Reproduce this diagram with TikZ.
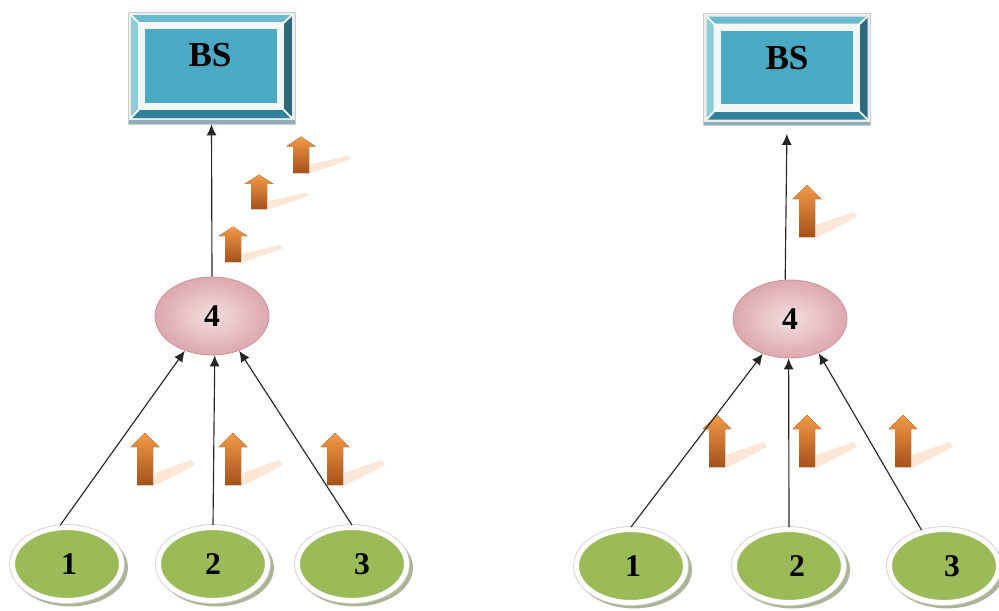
\documentclass[tikz,border=0pt]{standalone}
\usepackage{fontspec}
\setmainfont{Liberation Serif}
\usetikzlibrary{arrows.meta,shapes.geometric,calc,shadows}

\definecolor{bsrim}{HTML}{ECEEEE}
\definecolor{bsedge}{HTML}{C8CED0}
\definecolor{bsshade}{HTML}{8FAEB8}
\definecolor{bstop}{HTML}{6AB9CC}
\definecolor{bsleft}{HTML}{8FCDDB}
\definecolor{bsright}{HTML}{2B6A7C}
\definecolor{bsbottom}{HTML}{33809A}
\definecolor{bsface}{HTML}{4AA9C3}
\definecolor{bsgap}{HTML}{F3F6F7}
\definecolor{leafgreen}{HTML}{9BBB59}
\definecolor{ringedge}{HTML}{D2D2D2}
\definecolor{ringshadow}{HTML}{A9B596}
\definecolor{relaylight}{HTML}{F3DEE0}
\definecolor{relaydark}{HTML}{DCA8AE}
\definecolor{relayedge}{HTML}{CF959C}
\definecolor{arrtop}{HTML}{F29A46}
\definecolor{arrbot}{HTML}{A5511C}
\definecolor{arrshade}{HTML}{FCE6D6}

% bevelled frame of a base-station box, drawn inside the node's own path
\newcommand\bevelframe{%
  \coordinate (bvNW) at (path picture bounding box.north west);
  \coordinate (bvNE) at (path picture bounding box.north east);
  \coordinate (bvSE) at (path picture bounding box.south east);
  \coordinate (bvSW) at (path picture bounding box.south west);
  \fill[bsshade] ($(bvSW)+(0,-4)$) rectangle (bvSE);
  \coordinate (a1) at ($(bvNW)+(3,3)$);
  \coordinate (a2) at ($(bvNE)+(-3,3)$);
  \coordinate (a3) at ($(bvSE)+(-3,-6)$);
  \coordinate (a4) at ($(bvSW)+(3,-6)$);
  \coordinate (b1) at ($(bvNW)+(10,10)$);
  \coordinate (b2) at ($(bvNE)+(-11,10)$);
  \coordinate (b3) at ($(bvSE)+(-11,-14)$);
  \coordinate (b4) at ($(bvSW)+(10,-14)$);
  \coordinate (c1) at ($(bvNW)+(17,17)$);
  \coordinate (c3) at ($(bvSE)+(-18,-21)$);
  \fill[bstop] (a1)--(a2)--(b2)--(b1)--cycle;
  \fill[bsright] (a2)--(a3)--(b3)--(b2)--cycle;
  \fill[bsbottom] (a3)--(a4)--(b4)--(b3)--cycle;
  \fill[bsleft] (a4)--(a1)--(b1)--(b4)--cycle;
  \fill[bsgap] (b1) rectangle (b3);
  \fill[bsface] (c1) rectangle (c3);
  \draw[white, line width=1pt] (a1)--(c1) (a2)--(c3 |- c1) (a3)--(c3) (a4)--(c1 |- c3);
}

\tikzset{
  x=0.02cm, y=-0.02cm,
  bsbox/.style={rectangle, minimum width=3.34cm, minimum height=2.24cm,
    inner sep=0pt, fill=bsrim, draw=bsedge, line width=0.4pt,
    path picture={\bevelframe}},
  bslabel/.style={font=\fontsize{20}{24}\selectfont\bfseries},
  relay/.style={ellipse, minimum width=2.28cm, minimum height=1.56cm,
    inner sep=0pt, inner color=relaylight, outer color=relaydark,
    draw=relayedge, line width=0.5pt,
    font=\fontsize{18}{20}\selectfont\bfseries},
  leaf/.style={ellipse, minimum width=2.18cm, minimum height=1.46cm,
    inner sep=0pt,
    drop shadow={shadow xshift=0.06cm, shadow yshift=-0.07cm,
      shadow scale=1.06, fill=ringshadow, opacity=1},
    preaction={draw=ringedge, line width=0.135cm},
    fill=leafgreen, draw=white, line width=0.1cm},
  num/.style={font=\fontsize{18}{20}\selectfont\bfseries},
  link/.style={draw=black!85, line width=0.65pt,
    -{Latex[length=0.22cm,width=0.2cm]}},
  uparr/.pic={
    \fill[arrshade] (9,1) -- (9,-12) -- (47,-25) -- (50,-20) -- cycle;
    \fill[top color=arrtop, bottom color=arrbot]
      (-8,0) -- (-8,-38) -- (-14.5,-38) -- (0,-52) -- (14.5,-38)
      -- (8,-38) -- (8,0) -- cycle;
  }
}

\begin{document}
\begin{tikzpicture}
\useasboundingbox (0,0) rectangle (999,610);

% ---- left tree ----
\node[bsbox, label={[bslabel, xshift=-0.03cm, yshift=0.26cm]center:BS}] (LBS) at (211.5,68) {};
\node[relay] (L4) at (212,316) {4};
\node[leaf, label={[num, xshift=0.04cm]center:1}] (L1) at (67,564) {};
\node[leaf, label={[num]center:2}] (L2) at (213,564) {};
\node[leaf, label={[num, xshift=0.2cm]center:3}] (L3) at (352,564) {};

\pic at (145,485) {uparr};
\pic at (233,485) {uparr};
\pic at (335,485) {uparr};
\pic[yscale=0.68] at (233,262) {uparr};
\pic[yscale=0.66] at (259,209) {uparr};
\pic[yscale=0.7] at (301,173) {uparr};

\draw[link] (L1.100) -- (L4.-128);
\draw[link] (L2.north) -- (L4.-86);
\draw[link] (L3.north) -- (L4.-52);
\draw[link] (L4.north) -- (LBS.south);

% ---- right tree ----
\node[bsbox, label={[bslabel, yshift=0.22cm]center:BS}] (RBS) at (787,69.5) {};
\node[relay] (R4) at (790,319) {4};
\node[leaf, label={[num, xshift=0.04cm]center:1}] (R1) at (631,566) {};
\node[leaf, label={[num, xshift=0.16cm]center:2}] (R2) at (789,566) {};
\node[leaf, label={[num, xshift=0.16cm]center:3}] (R3) at (944,566) {};

\pic at (807,237) {uparr};
\pic at (717,467) {uparr};
\pic at (807,467) {uparr};
\pic at (903,467) {uparr};

\draw[link] (R1.north) -- (R4.-128);
\draw[link] (R2.north) -- (R4.-92);
\draw[link] (R3.122) -- (R4.-50);
\draw[link, shorten >=0.16cm] (R4.97) -- (RBS.south);
\end{tikzpicture}
\end{document}
